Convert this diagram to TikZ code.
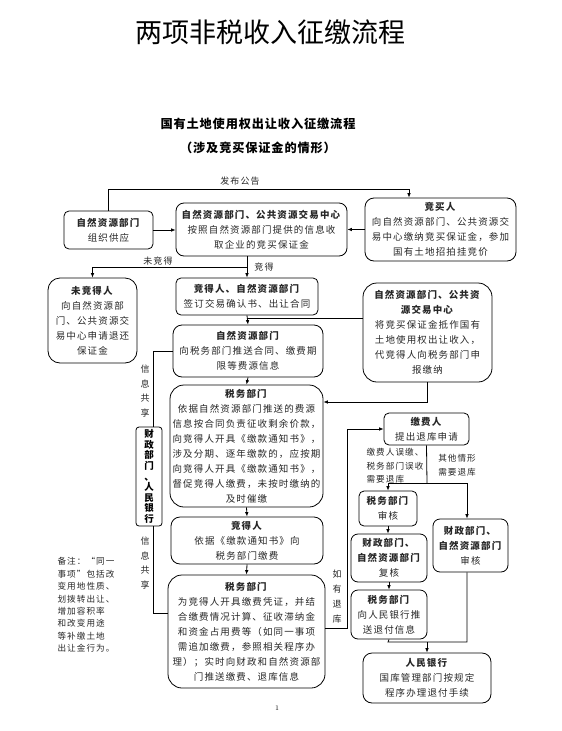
\documentclass[tikz,border=0pt]{standalone}
\usepackage{fontspec}
\newfontfamily\cjk[LetterSpace=12]{Noto Sans CJK SC}
\newfontfamily\cjkhead[LetterSpace=7]{Noto Sans CJK SC}
\newfontfamily\cjktitle{Noto Sans CJK SC}
\usetikzlibrary{arrows.meta,positioning}
\tikzset{>/.tip={Latex[length=4.5pt,width=3.6pt]}}
\tikzset{
  box/.style={draw, line width=0.8pt, rounded corners=5pt, align=center, inner sep=1pt,
    font=\cjk\fontsize{9.5}{15}\selectfont, text=black!85},
  bigbox/.style={box, rounded corners=14pt},
  lbl/.style={font=\cjk\fontsize{9}{12}\selectfont, text=black!85, inner sep=1pt},
  vlbl/.style={lbl, align=center, font=\cjk\fontsize{9}{14.5}\selectfont},
  line/.style={line width=0.8pt}
}

\begin{document}
\begin{tikzpicture}[x=1pt,y=-1pt]
  \useasboundingbox (0,0) rectangle (562,731);
  % titles
  \node(title) at (270,32) {\cjktitle\fontsize{27}{30}\selectfont 两项非税收入征缴流程};
  \node(sub1) at (258,124) {\cjkhead\bfseries\fontsize{12.2}{14}\selectfont 国有土地使用权出让收入征缴流程};
  \node(sub2) at (258,148) {\cjkhead\bfseries\fontsize{12.2}{14}\selectfont （涉及竞买保证金的情形）};

  % upper part
  \node(zyzg)[box, minimum width=89, minimum height=38] at (108.5,230)
    {\textbf{自然资源部门}\\组织供应};
  \node(jyzx)[box, rounded corners=8pt, minimum width=171, minimum height=53] at (261.5,229.5)
    {\textbf{自然资源部门、公共资源交易中心}\\按照自然资源部门提供的信息收\\取企业的竞买保证金};
  \node(jmr)[box, rounded corners=9pt, minimum width=151, minimum height=63] at (440.5,229.5)
    {\textbf{竞买人}\\向自然资源部门、公共资源交\\易中心缴纳竞买保证金，参加\\国有土地招拍挂竞价};
  \node(wjdr)[box, rounded corners=12pt, minimum width=89, minimum height=85] at (92.5,320.5)
    {\textbf{未竞得人}\\向自然资源部\\门、公共资源交\\易中心申请退还\\保证金};
  \node(jdr)[box, minimum width=142, minimum height=37] at (247,296.5)
    {\textbf{竞得人、自然资源部门}\\签订交易确认书、出让合同};
  \node(dkzx)[bigbox, minimum width=129, minimum height=99] at (427.5,332.5)
    {\textbf{自然资源部门、公共资}\\\textbf{源交易中心}\\将竞买保证金抵作国有\\土地使用权出让收入，\\代竞得人向税务部门申\\报缴纳};
  \node(zyts)[box, rounded corners=9pt, minimum width=150, minimum height=52] at (248,351)
    {\textbf{自然资源部门}\\向税务部门推送合同、缴费期\\限等费源信息};
  \node(swbm1)[bigbox, minimum width=153, minimum height=122] at (246.5,446)
    {\textbf{税务部门}\\依据自然资源部门推送的费源\\信息按合同负责征收剩余价款，\\向竞得人开具《缴款通知书》，\\涉及分期、逐年缴款的，应按期\\向竞得人开具《缴款通知书》，\\督促竞得人缴费，未按时缴纳的\\及时催缴};
  \node(czyh)[box, rounded corners=3pt, minimum width=26, minimum height=99,
    font=\cjk\bfseries\fontsize{9.5}{10.6}\selectfont, text=black] at (149,476.5)
    {财\\政\\部\\门\\、\\人\\民\\银\\行};
  \node(jdjf)[box, rounded corners=9pt, minimum width=152, minimum height=47] at (247,540.5)
    {\textbf{竞得人}\\依据《缴款通知书》向\\税务部门缴费};
  \node(swbm2)[bigbox, minimum width=157, minimum height=113] at (246.5,631.5)
    {\textbf{税务部门}\\为竞得人开具缴费凭证，并结\\合缴费情况计算、征收滞纳金\\和资金占用费等（如同一事项\\需追加缴费，参照相关程序办\\理）；实时向财政和自然资源部\\门推送缴费、退库信息};
  \node(beizhu)[lbl, align=left, font=\cjk\fontsize{8.6}{12.4}\selectfont] at (86,605)
    {备注：“同一\\事项”包括改\\变用地性质、\\划拨转出让、\\增加容积率\\和改变用途\\等补缴土地\\出让金行为。};

  % refund part
  \node(jfr)[box, minimum width=85, minimum height=32] at (426.5,429)
    {\textbf{缴费人}\\提出退库申请};
  \node(swsh)[box, minimum width=58, minimum height=35] at (388,508.5)
    {\textbf{税务部门}\\审核};
  \node(czfh)[box, rounded corners=7pt, minimum width=76, minimum height=48] at (389,558)
    {\textbf{财政部门、}\\\textbf{自然资源部门}\\复核};
  \node(swts)[box, rounded corners=7pt, minimum width=76, minimum height=49] at (389,614.5)
    {\textbf{税务部门}\\向人民银行推\\送退付信息};
  \node(czsh)[box, rounded corners=7pt, minimum width=75, minimum height=53] at (470.5,545.5)
    {\textbf{财政部门、}\\\textbf{自然资源部门}\\审核};
  \node(rmyh)[box, rounded corners=9pt, minimum width=128, minimum height=50] at (427,678)
    {\textbf{人民银行}\\国库管理部门按规定\\程序办理退付手续};
  \node(page)[font=\fontsize{7}{8}\selectfont] at (277,708) {1};

  % helper points
  \coordinate(gg) at (409,189);
  \coordinate(jd) at (247,267);
  \coordinate(dk) at (363,318);
  \coordinate(r402) at (0,402);
  \coordinate(yl) at (0,613);
  \coordinate(tk) at (347,628);
  \coordinate(fb) at (427,483);
  \coordinate(fbl) at (388,483);
  \coordinate(fbr) at (467,483);
  \coordinate(mb) at (427,642);
  \coordinate(mbl) at (388,642);
  \coordinate(mbr) at (467,642);

  % connectors
  \draw[line,->] (zyzg.north) |- (gg) -- (gg |- jmr.north);
  \node(fbgg)[lbl] at (240,181) {发布公告};
  \draw[line,->] (zyzg.east) -- (zyzg.east -| jyzx.west);
  \draw[line,->] (jmr.west) -- (jmr.west -| jyzx.east);
  \draw[line,->] (jdr.north |- jyzx.south) -- (jdr.north);
  \node(jdlbl)[lbl] at (264,267) {竞得};
  \draw[line,->] (jd) -| (wjdr.north);
  \node(wjdlbl)[lbl] at (158,261) {未竞得};
  \draw[line,->] (jdr.south) -- (zyts.north);
  \draw[line] (dk) -- (dk -| jdr.south);
  \draw[line,->] (dkzx.south) |- (swbm1.east |- r402);
  \draw[line,->] (zyts.south) -- (swbm1.north);
  \draw[line,->] (swbm1.south) -- (jdjf.north);
  \draw[line,->] (jdjf.south) -- (swbm2.north);
  \draw[line] (zyts.west) -| ([xshift=4pt]czyh.north);
  \node(xx1)[vlbl] at (145,391) {信\\息\\共\\享};
  \draw[line] ([xshift=4pt]czyh.south) |- (swbm2.west |- yl);
  \node(xx2)[vlbl] at (145,563) {信\\息\\共\\享};
  \draw[line,->] (swbm2.east |- tk) -- (tk) |- (jfr.west);
  \node(rytk)[vlbl, font=\cjk\fontsize{9}{15}\selectfont] at (337,597) {如\\有\\退\\库};
  \draw[line] (jfr.south) -- (fb);
  \draw[line] (fbl) -- (fbr);
  \draw[line,->] (fbl) -- (swsh.north);
  \draw[line,->] (fbr) -- (fbr |- czsh.north);
  \node(wjlbl)[lbl, align=left, font=\cjk\fontsize{8.6}{13.5}\selectfont] at (395,466)
    {缴费人误缴、\\税务部门误收\\需要退库};
  \node(qtlbl)[lbl, align=left, font=\cjk\fontsize{8.6}{13.5}\selectfont] at (457,465)
    {其他情形\\需要退库};
  \draw[line,->] (swsh.south) -- (swsh.south |- czfh.north);
  \draw[line,->] (czfh.south) -- (swts.north);
  \draw[line] (swts.south) -- (mbl) -- (mbr) -- (mbr |- czsh.south);
  \draw[line,->] (mb) -- (rmyh.north);
\end{tikzpicture}
\end{document}
